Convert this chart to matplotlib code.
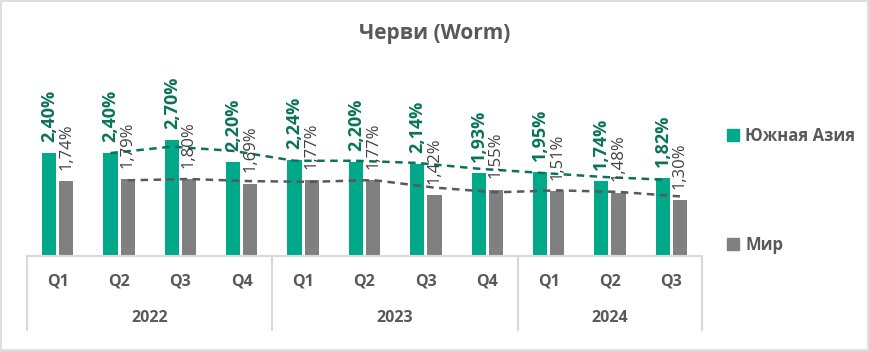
import numpy as np
import pandas as pd
import matplotlib
matplotlib.use("Agg")
import matplotlib.pyplot as plt
from matplotlib.patches import Rectangle, Patch

# chart data
quarters = ["Q1", "Q2", "Q3", "Q4", "Q1", "Q2", "Q3", "Q4", "Q1", "Q2", "Q3"]
years = ["2022", "2023", "2024"]
year_sizes = [4, 4, 3]
south_asia = [2.40, 2.40, 2.70, 2.20, 2.24, 2.20, 2.14, 1.93, 1.95, 1.74, 1.82]
world = [1.74, 1.79, 1.80, 1.69, 1.77, 1.77, 1.42, 1.55, 1.51, 1.48, 1.30]

GREEN = "#00A98A"
GREEN_DARK = "#0B7358"
GRAY = "#808080"
TEXT = "#595959"
AXIS = "#D9D9D9"

plt.rcParams['font.family'] = ['Open Sans', 'DejaVu Sans']

fig = plt.figure(figsize=(8.7, 3.51), dpi=100)
ax = fig.add_axes([27 / 870, 95 / 351, 675 / 870, 196 / 351])

x = np.arange(len(quarters))
off, w = 0.14, 0.23
ax.bar(x - off, south_asia, width=w, color=GREEN)
ax.bar(x + off, world, width=w, color=GRAY)

# moving average trend lines (period 2)
sa_ma = pd.Series(south_asia).rolling(2).mean()
w_ma = pd.Series(world).rolling(2).mean()
ax.plot(x - off, sa_ma, color=GREEN_DARK, ls=(0, (3, 2.2)), lw=1.8)
ax.plot(x + off, w_ma, color="#595959", ls=(0, (3, 2.2)), lw=1.8)

# data labels
for xi, v in zip(x, south_asia):
    ax.annotate(f"{v:.2f}%".replace(".", ","), (xi - off, v), xytext=(0, 8),
                textcoords="offset points", rotation=90, ha="center", va="bottom",
                fontsize=13, fontweight="bold", color=GREEN_DARK)
for xi, v in zip(x, world):
    ax.annotate(f"{v:.2f}%".replace(".", ","), (xi + off, v), xytext=(0, 8),
                textcoords="offset points", rotation=90, ha="center", va="bottom",
                fontsize=12, color="#404040")

ax.set_xlim(-0.5, len(quarters) - 0.5)
ax.set_ylim(0, 4.57)
ax.axis("off")

# category axis (two levels)
trans = ax.get_xaxis_transform()
ax.plot([-0.5, len(quarters) - 0.5], [0, 0], color=AXIS, lw=1.5, transform=trans, clip_on=False)
for xi, q in zip(x, quarters):
    ax.text(xi, -26 / 196, q, transform=trans, ha="center", va="center",
            fontsize=11.5, fontweight="bold", color=TEXT)
start = -0.5
bounds = [start]
for yr, n in zip(years, year_sizes):
    ax.text(start + n / 2, -62 / 196, yr, transform=trans, ha="center", va="center",
            fontsize=11.5, fontweight="bold", color=TEXT)
    start += n
    bounds.append(start)
for b in bounds:
    ax.plot([b, b], [0, -74 / 196], color=AXIS, lw=1.5, transform=trans, clip_on=False)

# title
fig.text(0.5, 1 - 33 / 351, "Черви (Worm)", ha="center", va="center",
         fontsize=15, fontweight="bold", color=TEXT)

# legend
handles = [Patch(color=GREEN), Patch(color=GRAY)]
leg = fig.legend(handles, ["Южная Азия", "Мир"], loc="upper left",
                 bbox_to_anchor=(712 / 870, 1 - 112 / 351), frameon=False,
                 labelspacing=5.45, handlelength=0.7, handleheight=0.7, handletextpad=0.4,
                 prop={"size": 12, "weight": "bold"})
for t in leg.get_texts():
    t.set_color(TEXT)

# chart border
fig.patches.append(Rectangle((0.001, 0.002), 0.997, 0.995, transform=fig.transFigure,
                             fill=False, edgecolor=AXIS, lw=1.2))

fig.savefig("out.png", dpi=100)
